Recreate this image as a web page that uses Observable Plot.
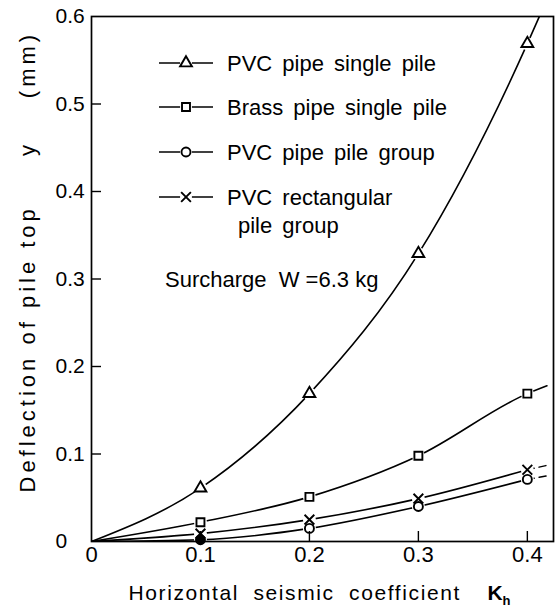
<!DOCTYPE html>
<html><head><meta charset="utf-8">
<script src="https://cdn.jsdelivr.net/npm/d3@7"></script>
<script src="https://cdn.jsdelivr.net/npm/@observablehq/plot@0.6"></script>
<style>
body{margin:0;background:#fff;}
#chart{width:559px;height:610px;}
</style></head><body><div id="chart"></div>
<script>
// ---- data ----
const kh = [0.1, 0.2, 0.3, 0.4];
const seriesNames = ["PVC pipe single pile", "Brass pipe single pile", "PVC pipe pile group", "PVC rectangular pile group"];
const pvcSingle = [0.061, 0.169, 0.329, 0.569];
const brassSingle = [0.022, 0.051, 0.098, 0.169];
const pvcGroup = [0.002, 0.015, 0.040, 0.071];
const pvcRect = [0.009, 0.025, 0.049, 0.082];
// where each drawn curve ends beyond the last measured point
const curveEndX = [0.411, 0.418, 0.418, 0.418];
const curveEndY = [0.600, 0.178, 0.075, 0.087];
const xTicks = [0, 0.1, 0.2, 0.3, 0.4];
const yTicks = [0, 0.1, 0.2, 0.3, 0.4, 0.5, 0.6];
const xLabel = "Horizontal seismic coefficient";
const xLabelSymbol = "K";
const xLabelSub = "h";
const yLabelParts = ["Deflection of pile top", "y", "(mm)"];
const legendLabels = ["PVC pipe single pile", "Brass pipe single pile", "PVC pipe pile group", "PVC rectangular", "pile group"];
const noteLabel = "Surcharge\u00a0\u00a0W\u00a0=6.3\u00a0kg";

const values = [pvcSingle, brassSingle, pvcGroup, pvcRect];
const symbols = ["triangle", "square", "circle", "times"];
const dashedEnd = [false, false, true, true];

const points = [];
const solid = [];
const dashed = [];
seriesNames.forEach((s, i) => {
  solid.push({series: s, x: 0, y: 0});
  kh.forEach((k, j) => {
    points.push({series: s, x: k, y: values[i][j], idx: i});
    solid.push({series: s, x: k, y: values[i][j]});
  });
  const last = {series: s, x: kh[kh.length - 1], y: values[i][kh.length - 1]};
  const end = {series: s, x: curveEndX[i], y: curveEndY[i]};
  if (dashedEnd[i]) { dashed.push(last, end); } else { solid.push(end); }
});

const FONT = "Liberation Sans";
const marks = [
  Plot.line(solid, {x: "x", y: "y", z: "series", curve: "monotone-x", stroke: "black", strokeWidth: 1.6, clip: true}),
  Plot.line(dashed, {x: "x", y: "y", z: "series", stroke: "black", strokeWidth: 1.5, strokeDasharray: "7,5", clip: true}),
  Plot.dot(points, {x: "x", y: "y", r: 6.5, fill: "white", stroke: "none"})
];
seriesNames.forEach((s, i) => {
  marks.push(Plot.dot(points.filter(d => d.idx === i), {
    x: "x", y: "y", symbol: () => symbols[i],
    r: i === 0 ? 4.4 : 4.5,
    stroke: "black", strokeWidth: 1.9,
    fill: d => (i === 2 && d.x === kh[0]) ? "black" : "white"
  }));
});
marks.push(
  Plot.tickY(yTicks.slice(1, -1), {y: d => d, insetRight: 452, stroke: "black", strokeWidth: 1.4}),
  Plot.tickX(xTicks.slice(1), {x: d => d, insetTop: 515, stroke: "black", strokeWidth: 1.4}),
  Plot.frame({stroke: "black", strokeWidth: 1.7}),
  Plot.axisX({ticks: xTicks, tickSize: 0, tickPadding: 5, fontSize: 22, label: null, tickFormat: d => d === 0 ? "0" : String(d)}),
  Plot.axisY({ticks: yTicks, tickSize: 0, tickPadding: 36, textAnchor: "start", fontSize: 21, label: null, tickFormat: d => d === 0 ? "0" : String(d)}),
  Plot.text(yLabelParts.slice(0, 1), {frameAnchor: "top-left", rotate: -90, textAnchor: "start", dx: -72, dy: 476, fontSize: 22}),
  Plot.text(yLabelParts.slice(1, 2), {frameAnchor: "top-left", rotate: -90, textAnchor: "middle", dx: -72, dy: 132, fontSize: 22}),
  Plot.text(yLabelParts.slice(2, 3), {frameAnchor: "top-left", rotate: -90, textAnchor: "middle", dx: -72, dy: 48, fontSize: 22}),
  Plot.text([xLabel], {frameAnchor: "bottom-left", textAnchor: "start", dx: 37, dy: 58, fontSize: 21}),
  Plot.text([xLabelSymbol], {frameAnchor: "bottom-left", textAnchor: "start", dx: 396, dy: 58, fontSize: 21, fontWeight: "bold"}),
  Plot.text([xLabelSub], {frameAnchor: "bottom-left", textAnchor: "start", dx: 411, dy: 63, fontSize: 13, fontWeight: "bold"})
);

const chart = Plot.plot({
  width: 559, height: 610,
  marginLeft: 91, marginRight: 6, marginTop: 16, marginBottom: 69,
  x: {domain: [0, 0.424]},
  y: {domain: [0, 0.6]},
  style: {background: "white", color: "black", fontFamily: FONT, fontSize: "21px"},
  marks
});
document.getElementById("chart").appendChild(chart);

const svg = d3.select(chart);
// letter spacing for the axis titles, like the reference lettering
svg.selectAll("text").filter(function() { return yLabelParts.includes(this.textContent); })
  .style("letter-spacing", "4px");
svg.selectAll("text").filter(function() { return this.textContent === xLabel; })
  .style("letter-spacing", "1.6px").style("word-spacing", "7px");

// ---- legend inside the frame ----
const lg = svg.append("g").attr("fill", "black").attr("font-size", 22)
  .attr("font-family", FONT).attr("text-anchor", "start");
const rowY = [63, 107, 152, 197];
const d3sym = {triangle: d3.symbolTriangle, square: d3.symbolSquare, circle: d3.symbolCircle, times: d3.symbolTimes};
symbols.forEach((sym, i) => {
  const y = rowY[i];
  lg.append("line").attr("x1", 159).attr("x2", 213).attr("y1", y).attr("y2", y)
    .attr("stroke", "black").attr("stroke-width", 1.6);
  const r = i === 0 ? 4.4 : 4.5;
  lg.append("circle").attr("cx", 186).attr("cy", y).attr("r", 6).attr("fill", "white");
  lg.append("path").attr("d", d3.symbol(d3sym[sym], Math.PI * r * r)())
    .attr("transform", `translate(186,${y})`)
    .attr("stroke", "black").attr("stroke-width", 1.9).attr("fill", "white");
});
const textRows = [[227, 63], [227, 107], [227, 152], [227, 197], [238, 225]];
legendLabels.forEach((t, i) => {
  lg.append("text").attr("x", textRows[i][0]).attr("y", textRows[i][1]).attr("dy", "0.35em")
    .style("word-spacing", "4px").text(t);
});
lg.append("text").attr("x", 165).attr("y", 279).attr("dy", "0.35em").text(noteLabel);
</script>
</body></html>
